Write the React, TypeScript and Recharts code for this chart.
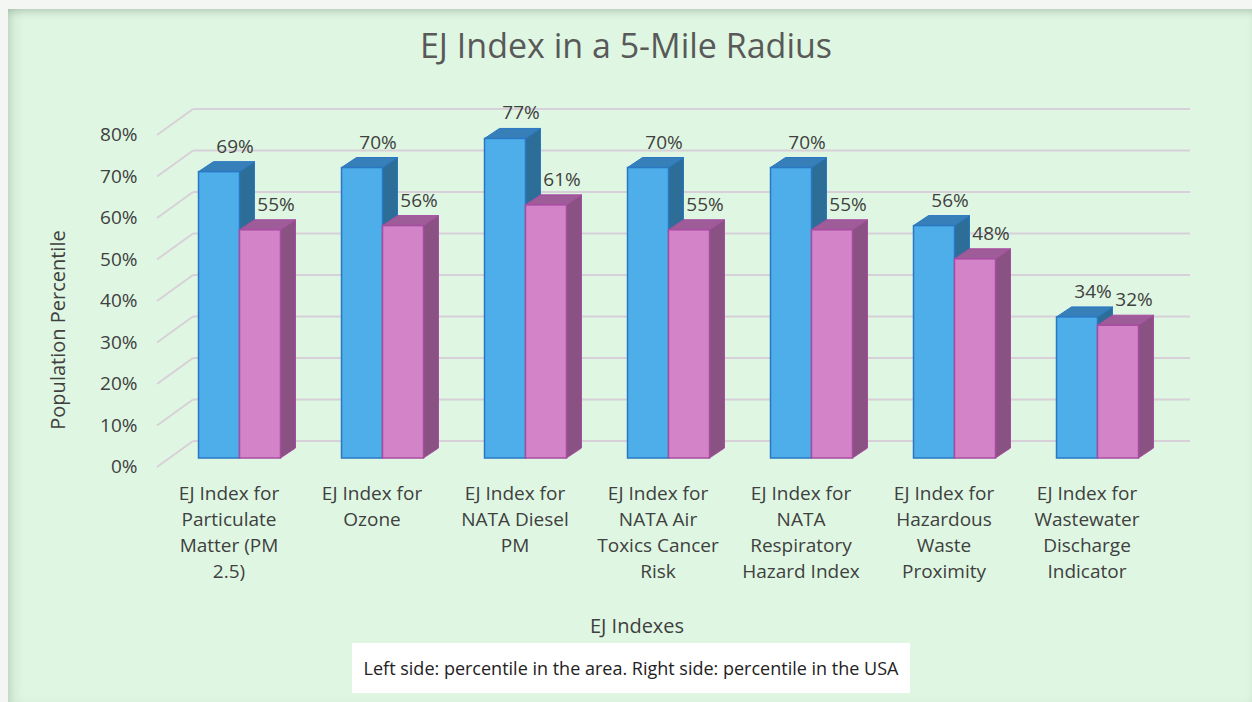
import React from "react";
import { BarChart, Bar, XAxis, YAxis, CartesianGrid, LabelList } from "recharts";

const categories = [
  "EJ Index for|Particulate|Matter (PM|2.5)",
  "EJ Index for|Ozone",
  "EJ Index for|NATA Diesel|PM",
  "EJ Index for|NATA Air|Toxics Cancer|Risk",
  "EJ Index for|NATA|Respiratory|Hazard Index",
  "EJ Index for|Hazardous|Waste|Proximity",
  "EJ Index for|Wastewater|Discharge|Indicator",
];
const areaValues = [69, 70, 77, 70, 70, 56, 34];
const usaValues = [55, 56, 61, 55, 55, 48, 32];
const yTicks = [0, 10, 20, 30, 40, 50, 60, 70, 80];

const data = categories.map((c, i) => ({ name: c, area: areaValues[i], usa: usaValues[i] }));

const FONT = "'Open Sans', Lato, sans-serif";
const TEXT = "#404040";
const DX = 15;
const DY = 10;

const makeBar = (front: string, side: string, top: string, stroke: string) => (p: any) => {
  const { x, y, width, height } = p;
  if (height == null || width == null) return <g />;
  const r = x + width;
  const b = y + height;
  return (
    <g>
      <polygon
        points={`${r},${y} ${r + DX},${y - DY} ${r + DX},${b - DY} ${r},${b}`}
        fill={side}
        stroke={stroke}
        strokeWidth={1}
      />
      <polygon
        points={`${x},${y} ${x + DX},${y - DY} ${r + DX},${y - DY} ${r},${y}`}
        fill={top}
        stroke={stroke}
        strokeWidth={1}
      />
      <rect x={x} y={y} width={width} height={height} fill={front} stroke={stroke} strokeWidth={1.5} />
    </g>
  );
};

const gridLine = (p: any) => {
  const { x1, x2, y1, index } = p;
  const backY = y1 - 17;
  const backX0 = x1 + 25.5;
  return (
    <g key={`g-${index}-${y1}`}>
      <line x1={backX0} y1={backY} x2={x2 + 21.5} y2={backY} stroke="#d8d0d8" strokeWidth={2} />
      <line x1={x1 - 10.5} y1={y1 + 9} x2={backX0} y2={backY} stroke="#d8d0d8" strokeWidth={2} />
    </g>
  );
};

const YTick = (p: any) => {
  const { x, y, payload } = p;
  return (
    <text x={x - 22} y={y + 8} textAnchor="end" dominantBaseline="central" fontFamily={FONT} fontSize={19} fill={TEXT}>
      {`${payload.value}%`}
    </text>
  );
};

const XTick = (p: any) => {
  const { x, y, payload } = p;
  const lines = String(payload.value).split("|");
  return (
    <text x={x - 10} y={y} textAnchor="middle" fontFamily={FONT} fontSize={19} fill={TEXT}>
      {lines.map((l, i) => (
        <tspan key={i} x={x - 10} y={y + 34 + i * 26}>
          {l}
        </tspan>
      ))}
    </text>
  );
};

const ValueLabel = (p: any) => {
  const { x, y, width, value } = p;
  return (
    <text x={x + width / 2 + 16} y={y - 26} textAnchor="middle" dominantBaseline="central" fontFamily={FONT} fontSize={19} fill={TEXT}>
      {`${value}%`}
    </text>
  );
};

const YTitle = (p: any) => {
  const { viewBox } = p;
  const cx = viewBox.x - 50;
  const cy = viewBox.y + viewBox.height / 2 + 38;
  return (
    <text
      x={cx}
      y={cy}
      transform={`rotate(-90 ${cx} ${cy})`}
      textAnchor="middle"
      dominantBaseline="central"
      fontFamily={FONT}
      fontSize={20}
      fill={TEXT}
    >
      Population Percentile
    </text>
  );
};

const XTitle = (p: any) => {
  const { viewBox } = p;
  const cx = viewBox.x + viewBox.width / 2 - 31;
  const cy = viewBox.y + viewBox.height - 13;
  return (
    <text x={cx} y={cy} textAnchor="middle" dominantBaseline="central" fontFamily={FONT} fontSize={20} fill={TEXT}>
      EJ Indexes
    </text>
  );
};

export default function App() {
  return (
    <div
      style={{
        position: "absolute",
        left: 0,
        top: 0,
        width: 1252,
        height: 702,
        background: "#f4f6f4",
        overflow: "hidden",
      }}
    >
      <div
        style={{
          position: "absolute",
          left: 8,
          top: 9,
          width: 1244,
          height: 693,
          background: "#dff7e2",
          boxShadow: "inset 0 6px 8px -4px rgba(120,140,125,0.45), inset 10px 0 14px -8px rgba(120,140,125,0.35)",
        }}
      />
      <div
        style={{
          position: "absolute",
          left: 0,
          top: 27,
          width: 1252,
          textAlign: "center",
          fontFamily: FONT,
          fontSize: 34,
          color: "#595959",
          lineHeight: "36px",
        }}
      >
        EJ Index in a 5-Mile Radius
      </div>
      <div style={{ position: "absolute", left: 0, top: 0 }}>
        <BarChart
          width={1252}
          height={702}
          data={data}
          margin={{ top: 126, right: 83.5, bottom: 64, left: 107.5 }}
          barGap={0}
          barSize={41}
        >
          <CartesianGrid vertical={false} horizontal={gridLine} stroke="#d8d0d8" />
          <XAxis
            dataKey="name"
            axisLine={false}
            tickLine={false}
            interval={0}
            height={180}
            tick={<XTick />}
            label={<XTitle />}
          />
          <YAxis
            domain={[0, 80]}
            ticks={yTicks}
            axisLine={false}
            tickLine={false}
            width={60}
            tick={<YTick />}
            label={<YTitle />}
          />
          <Bar
            dataKey="area"
            name="Percentile in the area"
            isAnimationActive={false}
            shape={makeBar("#4daeea", "#2c6e98", "#367fb8", "#2a78c4")}
          >
            <LabelList dataKey="area" content={<ValueLabel />} />
          </Bar>
          <Bar
            dataKey="usa"
            name="Percentile in the USA"
            isAnimationActive={false}
            shape={makeBar("#d383c7", "#8a5282", "#9e5c98", "#a84ca2")}
          >
            <LabelList dataKey="usa" content={<ValueLabel />} />
          </Bar>
        </BarChart>
      </div>
      <div
        style={{
          position: "absolute",
          left: 352,
          top: 643,
          width: 558,
          height: 50,
          background: "#ffffff",
          display: "flex",
          alignItems: "center",
          justifyContent: "center",
          fontFamily: "'Open Sans', sans-serif",
          fontSize: 18,
          color: "#222222",
        }}
      >
        Left side: percentile in the area. Right side: percentile in the USA
      </div>
    </div>
  );
}
